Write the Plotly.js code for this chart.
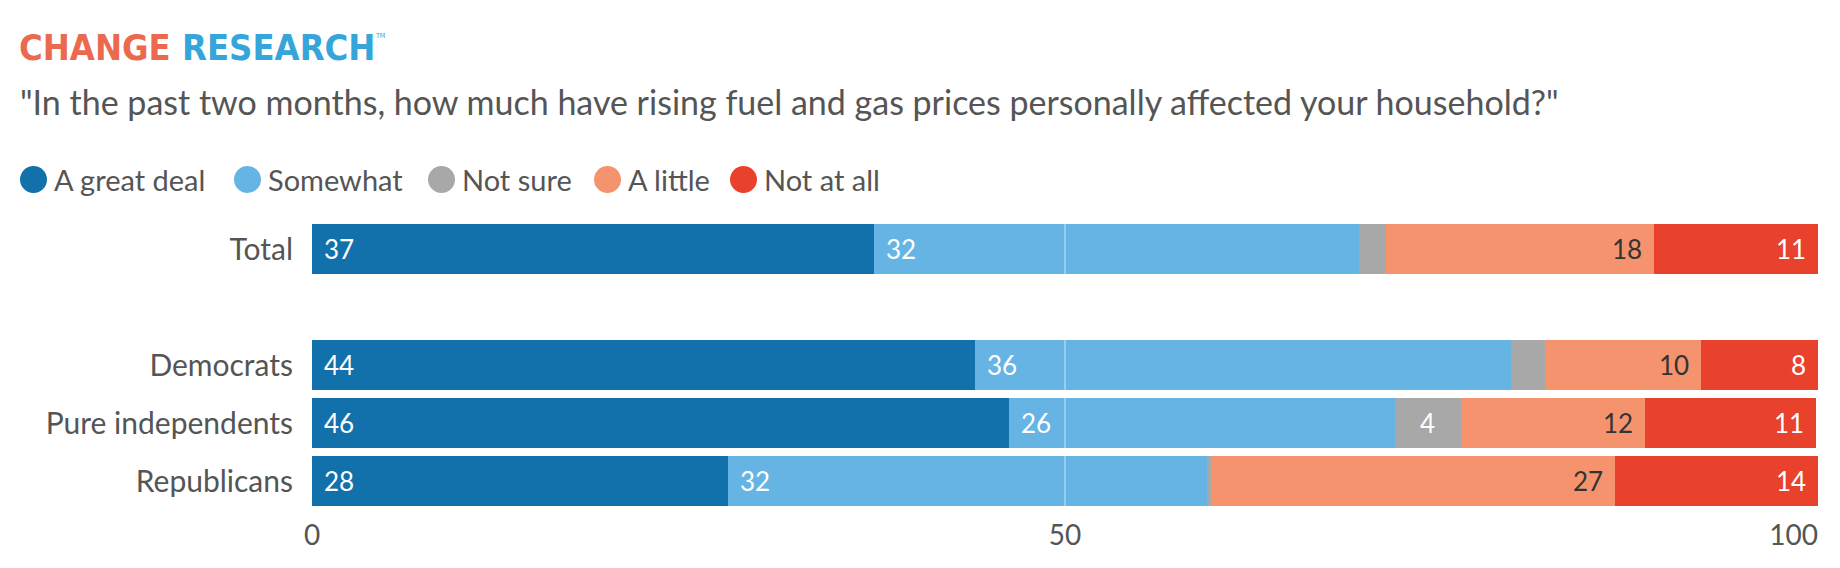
<!DOCTYPE html>
<html>
<head>
<meta charset="utf-8">
<script src="https://cdn.plot.ly/plotly-3.0.1.min.js"></script>
<style>
  html, body { margin: 0; padding: 0; background: #fff; }
  #plot { width: 1840px; height: 568px; }
</style>
</head>
<body>
<div id="plot"></div>
<script>
(function () {
  "use strict";

  // ── Data (percent of respondents) ───────────────────────────────
  const GROUPS = ["Total", "Democrats", "Pure independents", "Republicans"];
  const ANSWERS = ["A great deal", "Somewhat", "Not sure", "A little", "Not at all"];
  const GREAT_DEAL = [37.3, 44.0, 46.3, 27.6];
  const SOMEWHAT   = [32.2, 35.6, 25.6, 31.8];
  const NOT_SURE   = [1.8, 2.3, 4.4, 0.3];
  const A_LITTLE   = [17.8, 10.3, 12.2, 26.8];
  const NOT_AT_ALL = [10.9, 7.8, 11.4, 13.5];
  const X_TICKS = [0, 50, 100];

  const SERIES = [GREAT_DEAL, SOMEWHAT, NOT_SURE, A_LITTLE, NOT_AT_ALL];
  const COLORS = ["#1270ab", "#66b4e3", "#a8a8a8", "#f5936e", "#e8412c"];
  const LABEL_COLOR = ["#fff", "#fff", "#fff", "#333", "#fff"];
  const LABEL_ALIGN = ["left", "left", "center", "right", "right"];
  const TEXT = "#555555";
  const FONT = "Lato, 'Open Sans', sans-serif";
  const LOGO_FONT = "'Liberation Sans Narrow', 'DejaVu Sans Condensed', Roboto, sans-serif";

  // Fixed page geometry so paper coords map cleanly to pixels.
  const W = 1840, H = 568;
  const M = { l: 312, r: 22, t: 220, b: 58 };
  const PW = W - M.l - M.r, PH = H - M.t - M.b;
  const px = (x) => (x - M.l) / PW;
  const py = (y) => (H - M.b - y) / PH;

  // Blank slot between Total and the party rows.
  const ROWS = [GROUPS[0], " ", ...GROUPS.slice(1)];

  const traces = SERIES.map((vals, s) => ({
    type: "bar", orientation: "h",
    name: ANSWERS[s],
    x: vals, y: GROUPS,
    marker: { color: COLORS[s], line: { width: 0 } },
    hoverinfo: "name+x",
    showlegend: false,
  }));
  // keeps the empty spacer category on the axis (and puts x2 on the page)
  traces.push({
    type: "bar", orientation: "h", x: [0], y: [" "], xaxis: "x2",
    hoverinfo: "skip", showlegend: false, marker: { color: "rgba(0,0,0,0)" },
  });

  const annotations = [];
  const shapes = [];

  // Segment value labels, positioned on the data axis.
  GROUPS.forEach((g, gi) => {
    let start = 0;
    SERIES.forEach((vals, s) => {
      const v = vals[gi];
      const end = start + v;
      if (v >= 3) {
        const align = LABEL_ALIGN[s];
        annotations.push({
          xref: "x", yref: "y", y: g,
          x: align === "left" ? start : align === "right" ? end : (start + v / 2),
          xanchor: align, yanchor: "middle",
          xshift: align === "left" ? 10 : align === "right" ? -10 : 0,
          text: String(Math.round(v)), showarrow: false,
          font: { family: FONT, size: 26, color: LABEL_COLOR[s] },
        });
      }
      start = end;
    });
  });

  // Logo + question.
  annotations.push({
    xref: "paper", yref: "paper", x: px(17), y: py(25),
    xanchor: "left", yanchor: "top", showarrow: false,
    text: "<b><span style='color:#eb6a4f'>CHANGE</span> <span style='color:#36a6da'>RESEARCH</span></b>",
    font: { family: LOGO_FONT, size: 36 },
  });
  annotations.push({
    xref: "paper", yref: "paper", x: px(373), y: py(30),
    xanchor: "left", yanchor: "top", showarrow: false,
    text: "TM", font: { family: LOGO_FONT, size: 7, color: "#36a6da" },
  });
  annotations.push({
    xref: "paper", yref: "paper", x: px(18), y: py(79),
    xanchor: "left", yanchor: "top", showarrow: false,
    text: "\"In the past two months, how much have rising fuel and gas prices personally affected your household?\"",
    font: { family: FONT, size: 34, color: TEXT },
  });

  // Legend: circles + labels.
  const LEG_X = [20, 234, 428, 594, 730];
  const LEG_Y = 179.5, R = 13.5;
  ANSWERS.forEach((a, s) => {
    shapes.push({
      type: "circle", xref: "paper", yref: "paper", layer: "above",
      x0: px(LEG_X[s]), x1: px(LEG_X[s] + 2 * R),
      y0: py(LEG_Y + R), y1: py(LEG_Y - R),
      fillcolor: COLORS[s], line: { width: 0 },
    });
    annotations.push({
      xref: "paper", yref: "paper", x: px(LEG_X[s] + 2 * R + 5), y: py(LEG_Y),
      xanchor: "left", yanchor: "middle", showarrow: false,
      text: a, font: { family: FONT, size: 29, color: TEXT },
    });
  });

  // Midline drawn over the bars.
  shapes.push({
    type: "line", xref: "x", yref: "paper", layer: "above",
    x0: 50, x1: 50, y0: 0, y1: 1,
    line: { color: "rgba(255,255,255,0.45)", width: 1.5 },
  });

  const tickAxis = {
    range: [0, 100], fixedrange: true,
    showgrid: false, zeroline: false, showline: false, ticks: "",
    tickfont: { family: FONT, size: 28, color: TEXT },
    ticklabelstandoff: 6,
    ticklabeloverflow: "allow",
  };

  const layout = {
    width: W, height: H,
    margin: M,
    barmode: "stack",
    bargap: 0.14,
    paper_bgcolor: "#fff",
    plot_bgcolor: "#fff",
    showlegend: false,
    font: { family: FONT, color: TEXT },
    // 0 and 50 centred under their ticks; the end tick sits flush right
    xaxis: Object.assign({}, tickAxis, { tickvals: X_TICKS.slice(0, -1) }),
    xaxis2: Object.assign({}, tickAxis, {
      tickvals: X_TICKS.slice(-1),
      overlaying: "x", anchor: "y", side: "bottom",
      ticklabelposition: "outside left",
    }),
    yaxis: {
      type: "category",
      categoryorder: "array", categoryarray: ROWS,
      range: [ROWS.length - 0.5, -0.5], fixedrange: true,
      showgrid: false, zeroline: false, showline: false, ticks: "",
      tickfont: { family: FONT, size: 30, color: TEXT },
      ticklabelstandoff: 18,
    },
    annotations, shapes,
  };

  Plotly.newPlot("plot", traces, layout, { displayModeBar: false, staticPlot: true });
})();
</script>
</body>
</html>
